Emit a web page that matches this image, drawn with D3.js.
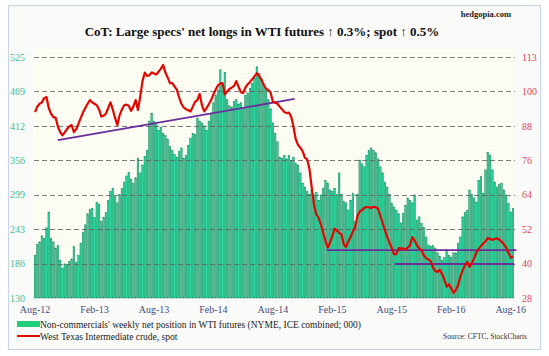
<!DOCTYPE html>
<html><head><meta charset="utf-8">
<script src="https://cdn.jsdelivr.net/npm/d3@7"></script>
<style>body{margin:0;background:#fff}svg{display:block}</style>
</head><body>
<svg id="c" width="549" height="356"></svg>
<script>
// ---- data (weekly, from Aug 7 2012 to Aug 9 2016) ----
const firstWeek = "2012-08-07";
const netLongs = [
200,218,222,232,228,245,271,228,222,212,216,192,179,186,184,190,194,214,188,200,
220,238,250,268,275,277,262,287,284,255,262,270,290,305,310,296,286,300,310,320,
330,336,325,318,327,359,335,348,362,372,420,433,420,414,405,410,400,396,390,378,
372,365,361,370,376,359,364,380,392,400,398,425,420,417,412,405,420,433,450,462,
471,504,478,500,455,445,443,452,455,448,450,440,462,466,474,482,490,509,498,490,
478,470,455,440,417,400,386,361,359,364,358,364,356,361,351,348,335,318,312,305,
300,308,299,303,290,299,310,323,318,307,305,310,300,335,300,288,286,274,290,302,
255,300,356,350,345,364,372,376,372,368,358,345,335,320,312,300,285,279,274,268,
253,269,282,294,290,286,299,258,263,252,246,230,217,214,216,212,204,198,192,196,
209,200,197,204,204,220,230,263,270,274,307,300,294,287,323,329,302,340,369,364,
340,320,312,316,318,307,299,285,271,277];
const wtiSpot = [
93.6,95.5,96.5,97,98.5,98.9,95,93,91.8,91.6,88.5,86.5,85.4,86.4,87.6,88.5,89,86.5,87.5,89.5,
91.5,93.5,95,96.5,97.8,97,96.5,96,94.5,92,92.3,93,95,97,94.5,91.5,89,92.5,94.5,96,
96.2,95.8,94,95.5,97.8,94.3,99,104.5,107.5,106.3,106.5,107.6,107.2,106.8,107.8,108.8,110.2,107.5,105.8,103.8,
103.8,102.6,101.5,98.8,96.5,95.2,94.6,94.2,93.8,95.5,97.2,97.8,100,96,93.8,95,96.3,97.8,99.8,101.5,
103,103.6,103.8,99.8,100.8,101.7,102.2,102.8,104.5,102.5,100.6,100.3,102.2,103.4,104.2,105.2,106.2,107.3,106.4,105,
103.3,101.8,101.4,100.5,97.2,96.9,96.5,95.5,94.6,93.6,93.2,93.4,92,88.5,84,82,81,79.8,77.5,76.9,
73.5,67,61,57.5,56.3,54,51,48.2,45.8,47.5,49.8,52.5,51.8,51,50.4,47,46,48,49.5,51.5,
53,57,58.5,59,59.8,60.1,60,59.7,60.2,60,59.5,57,54.5,52,49.5,47.5,45.6,43.5,43.5,45.6,
45.4,45.5,45,45.8,46.5,49.5,48.3,46.6,45.5,44.9,43,42,41.6,41,38.8,37.6,37.2,37.9,36.5,34.5,
32,32.8,31.5,29.8,30.8,32.5,35.5,37.8,39.5,40.7,39,40.2,42,44,45.4,46.3,47.2,48,49.2,48.8,
48.5,48.8,49.1,48.6,47.9,47,45.8,44,42.2,42.6];
const xTickDates = ["2012-08-07","2013-02-05","2013-08-06","2014-02-04","2014-08-05","2015-02-03","2015-08-04","2016-02-02","2016-08-02"];
const leftTicks = [130,186.43,242.86,299.29,355.71,412.14,468.57,525];
const leftTickLabels = ["130","186","243","299","356","412","469","525"];
const rightTicks = [28,40.14,52.29,64.43,76.57,88.71,100.86,113];
const rightTickLabels = ["28","40","52","64","76","88","100","113"];
// trend lines: [week index, price]
const trendRising = [[10,83.7],[113.5,98.2]];
const supportUpper = [[127.5,44.9],[210.5,44.9]];
const supportLower = [[157.5,40.0],[209.5,40.0]];

// ---- layout ----
const svg = d3.select("#c");
const W = 549, H = 356;
const L = 34, R = 514, T = 57, B = 298, GR = 515;
const parse = d3.utcParse("%Y-%m-%d");
const start = parse(firstWeek);
const dates = netLongs.map((_, i) => d3.utcWeek.offset(start, i));

const x = d3.scaleBand().domain(dates.map(d => +d)).range([L, R]).paddingInner(0.3).paddingOuter(0.1);
const xi = d3.scaleLinear().domain([0, dates.length - 1])
  .range([x(+dates[0]) + x.bandwidth()/2, x(+dates[dates.length-1]) + x.bandwidth()/2]);
const yL = d3.scaleLinear().domain([130, 525]).range([B, T]);
const yR = d3.scaleLinear().domain([28, 113]).range([B, T]);

// background + frame
svg.append("rect").attr("width", W).attr("height", H).attr("fill", "#ffffff");
svg.append("rect").attr("x", 8.5).attr("y", 5.5).attr("width", 532).attr("height", 344)
  .attr("fill", "#fafaf8").attr("stroke", "#c9d6e8").attr("stroke-width", 1.2);

const defs = svg.append("defs");
const pat = defs.append("pattern").attr("id", "dots").attr("width", 4).attr("height", 4).attr("patternUnits", "userSpaceOnUse");
pat.append("rect").attr("width", 4).attr("height", 4).attr("fill", "#fffff5");
pat.append("rect").attr("x", 1).attr("y", 1).attr("width", 1).attr("height", 1).attr("fill", "#f3eab8");
svg.append("rect").attr("x", L).attr("y", T - 8).attr("width", GR - L).attr("height", B - T + 8).attr("fill", "url(#dots)");

// bars
svg.append("g").selectAll("rect").data(netLongs).join("rect")
  .attr("x", (d, i) => x(+dates[i]))
  .attr("width", x.bandwidth())
  .attr("y", d => yL(d))
  .attr("height", d => B - yL(d))
  .attr("fill", "#33d6a0").attr("stroke", "#0c875a").attr("stroke-width", 0.5);

// gridlines
const gridG = svg.append("g").attr("class", "grid");
leftTicks.slice(1).forEach(v => {
  const yy = Math.round(yL(v)) + 0.5;
  gridG.append("path")
    .attr("d", `M${L},${yy}H${GR}`)
    .style("stroke", "#5c5c5c").style("stroke-width", "1.2px")
    .style("stroke-dasharray", "5 3").style("fill", "none").style("opacity", 0.8);
});

// left axis labels
const ax = svg.append("g").attr("transform", `translate(${L},0)`)
  .call(d3.axisLeft(yL).tickValues(leftTicks).tickSize(0).tickPadding(9).tickFormat((d, i) => leftTickLabels[i]));
ax.select(".domain").remove();
ax.selectAll("text").attr("fill", "#3cc09c").style("font", "10px 'Liberation Serif', serif");

// right axis labels
const axR = svg.append("g").attr("transform", `translate(${GR},0)`)
  .call(d3.axisRight(yR).tickValues(rightTicks).tickSize(0).tickPadding(7).tickFormat((d, i) => rightTickLabels[i]));
axR.select(".domain").remove();
axR.selectAll("text").attr("fill", "#d9455e").style("font", "10px 'Liberation Serif', serif");

// x axis labels
const xa = svg.append("g").attr("transform", `translate(0,${B})`)
  .call(d3.axisBottom(x).tickValues(xTickDates.map(s => +parse(s))).tickSize(0).tickPadding(8)
    .tickFormat(d => d3.utcFormat("%b-%y")(new Date(d))));
xa.select(".domain").remove();
xa.selectAll("text").attr("fill", "#3f4d7c").style("font", "10px 'Liberation Serif', serif");

// trend lines
const tl = d3.line().x(d => xi(d[0])).y(d => yR(d[1]));
[trendRising, supportUpper, supportLower].forEach(t => {
  svg.append("path").attr("d", tl(t)).attr("fill", "none").attr("stroke", "#6b2c9e").attr("stroke-width", 1.8);
});

// WTI line
svg.append("path")
  .attr("d", d3.line().x((d, i) => xi(i)).y(d => yR(d))(wtiSpot))
  .attr("fill", "none").attr("stroke", "#e10600").attr("stroke-width", 2.2).attr("stroke-linejoin", "round");

// title
svg.append("text").attr("x", 262).attr("y", 36).attr("text-anchor", "middle")
  .style("font", "bold 13px 'Liberation Serif', 'Times New Roman', serif").attr("fill", "#111")
  .text("CoT: Large specs' net longs in WTI futures ↑ 0.3%; spot ↑ 0.5%");
svg.append("text").attr("x", 511).attr("y", 17).attr("text-anchor", "end")
  .style("font", "bold 8.5px 'Liberation Serif', serif").attr("fill", "#222").text("hedgopia.com");

// legend
svg.append("rect").attr("x", 17).attr("y", 321).attr("width", 23).attr("height", 6).attr("fill", "#1fcf7a");
svg.append("text").attr("x", 40).attr("y", 328).style("font", "9.5px 'Liberation Serif', serif").attr("fill", "#222")
  .text("Non-commercials' weekly net position in WTI futures (NYME, ICE combined; 000)");
svg.append("line").attr("x1", 17).attr("x2", 40).attr("y1", 336).attr("y2", 336).attr("stroke", "#e10600").attr("stroke-width", 2);
svg.append("text").attr("x", 40).attr("y", 340).style("font", "9.5px 'Liberation Serif', serif").attr("fill", "#222")
  .text("West Texas Intermediate crude, spot");
svg.append("text").attr("x", 527).attr("y", 339).attr("text-anchor", "end").style("font", "7.5px 'Liberation Serif', serif").attr("fill", "#333")
  .text("Source: CFTC, StockCharts");
</script>
</body></html>
